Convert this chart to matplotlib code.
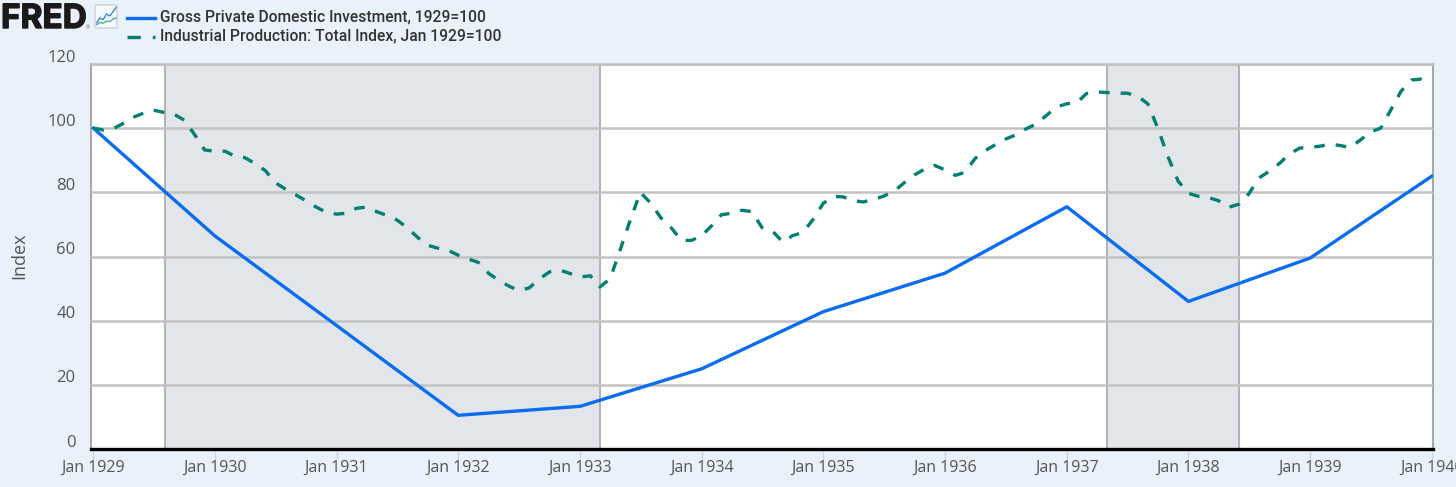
import numpy as np
import pandas as pd
import matplotlib
matplotlib.use('Agg')
from matplotlib import pyplot as plt
from matplotlib import patheffects
from matplotlib.lines import Line2D
from matplotlib.patches import FancyBboxPatch

W, H = 1456, 487

# annual series
gpdi_dates = pd.date_range('1929-01-01', '1940-01-01', freq='YS')
gpdi = [100, 66.4, 38.5, 10.5, 13.3, 25, 42.8, 54.8, 75.5, 46, 59.5, 85]

# monthly series, Jan 1929 to Jan 1940
indpro_dates = pd.date_range('1929-01-01', '1940-01-01', freq='MS')
indpro = [
    100, 99.4, 99.8, 101.5, 103.4, 104.7, 105.6, 104.9, 104.3, 102.5, 98, 93.2,
    92.8, 92.8, 91.3, 90.8, 89, 86.8, 83, 81, 79.2, 77.4, 75.4, 73.8,
    73.2, 73.5, 75, 75.4, 74, 72.8, 71.4, 69, 66, 63.5, 62.6, 62,
    60.4, 59.2, 58.2, 54.8, 52.6, 50.8, 49.4, 50.2, 53, 55.2, 55.8, 54.7,
    53.6, 54, 50.5, 53, 62, 71.5, 80, 76.6, 72, 69, 65, 65,
    66.5, 69.7, 73, 73.5, 74.4, 74, 69, 68, 64.5, 66.5, 67.5, 71.5,
    76.6, 78.7, 78.6, 77.4, 77, 77.8, 78.8, 80.3, 83, 85.4, 87.2, 88.4,
    87, 85.3, 86.2, 90.6, 93, 94.9, 96.6, 97.9, 99.8, 101.3, 104, 106.6,
    107.6, 108, 110.8, 111.3, 111.1, 110.9, 110.9, 110, 107.6, 100, 91, 83.5,
    79.7, 78.7, 78.4, 77.4, 75.3, 76.3, 79.5, 84.5, 86.6, 89, 92, 93.8,
    94, 94.4, 95, 94.6, 94, 96.3, 98.8, 100, 105.8, 111.5, 115, 115.3,
    114,
]

recessions = [('1929-08-05', '1933-03-01'), ('1937-05-03', '1938-06-01')]
y_ticks = [0, 20, 40, 60, 80, 100, 120]
x_ticks = pd.date_range('1929-01-01', '1940-01-01', freq='YS')
x_labels = ['Jan %d' % d.year for d in x_ticks]

# little chart icon next to the logo
icon_x = [0, 1, 2, 3, 4, 5, 6]
icon_blue = [1.5, 3.2, 2.6, 4.6, 3.9, 5.4, 7]
icon_green = [0.8, 1.6, 1.3, 2.1, 1.9, 2.8, 3.2]

BG = '#e9f1fa'
BLUE = '#0a6cf0'
TEAL = '#027f6e'
GRID = '#c2c2c2'

plt.rcParams['font.family'] = ['Open Sans', 'DejaVu Sans']

fig = plt.figure(figsize=(W / 100, H / 100), dpi=100, facecolor=BG)
ax = fig.add_axes([91 / W, 1 - 449 / H, (1433 - 91) / W, (449 - 64) / H])

for start, end in recessions:
    ax.axvspan(pd.Timestamp(start), pd.Timestamp(end), color='#e2e6ea', lw=0, zorder=0)
    ax.axvline(pd.Timestamp(start), color='#b4b4b4', lw=1.5, zorder=1)
    ax.axvline(pd.Timestamp(end), color='#b4b4b4', lw=1.5, zorder=1)

ax.plot(gpdi_dates, gpdi, color=BLUE, lw=2.4, zorder=3, solid_joinstyle='round')
ax.plot(indpro_dates, indpro, color=TEAL, lw=2.4, zorder=3, linestyle=(0, (3.2, 3.3)))

ax.set_xlim(pd.Timestamp('1928-12-25'), pd.Timestamp('1940-01-05'))
ax.set_ylim(0, 120)

ax.set_yticks(y_ticks)
ax.set_yticklabels([])
ax.grid(axis='y', color=GRID, lw=1.8, zorder=2)
ax.set_axisbelow(False)
for line in ax.get_ygridlines():
    line.set_zorder(2)
ax.tick_params(axis='y', length=0)

ax.set_xticks(x_ticks)
ax.set_xticklabels(x_labels, fontsize=11.5, color='#555555')
ax.tick_params(axis='x', length=7, width=1, color='#ccd6eb', pad=1)

for name in ['left', 'right']:
    ax.spines[name].set_color('#a8a8a8')
    ax.spines[name].set_linewidth(1.5)
ax.spines['top'].set_color(GRID)
ax.spines['top'].set_linewidth(1.8)
ax.spines['bottom'].set_color('black')
ax.spines['bottom'].set_linewidth(2.4)
ax.spines['bottom'].set_zorder(5)

# y labels sit above their grid lines
for v in y_ticks:
    ax.annotate(str(v), (0, v), xycoords=('axes fraction', 'data'), xytext=(-11, -1.2),
                textcoords='offset points', ha='right', va='bottom', fontsize=12,
                color='#555555')

fig.text(19 / W, 1 - 256 / H, 'Index', rotation=90, ha='center', va='center',
         fontsize=13, color='#555555')

# logo
logo = fig.text(1 / W, 1 - 28 / H, 'FRED', fontsize=24, fontweight='bold', color='#1a1a1a',
                family=['Inter', 'DejaVu Sans'], ha='left', va='baseline')
logo.set_path_effects([patheffects.withStroke(linewidth=1.0, foreground='#1a1a1a')])
fig.text(86 / W, 1 - 29 / H, '®', fontsize=4, color='#777777', family=['Roboto', 'DejaVu Sans'])

icon_box = FancyBboxPatch((95 / W, 1 - 28 / H), 22 / W, 23 / H, transform=fig.transFigure,
                          boxstyle='round,pad=0,rounding_size=0.002', fc='#f4f8fc',
                          ec='#c8c8c8', lw=0.8, zorder=-1)
fig.patches.append(icon_box)
icon_ax = fig.add_axes([96 / W, 1 - 27 / H, 21 / W, 21 / H])
icon_ax.axis('off')
icon_ax.plot(icon_x, icon_blue, color='#2f7de1', lw=0.9)
icon_ax.plot(icon_x, icon_green, color='#3cab94', lw=0.9)
icon_ax.set_xlim(-0.2, 6.2)
icon_ax.set_ylim(0, 7.4)

# legend
fig.add_artist(Line2D([127 / W, 155 / W], [1 - 17.5 / H, 1 - 17.5 / H], color=BLUE, lw=2.4))
fig.add_artist(Line2D([127 / W, 155 / W], [1 - 37 / H, 1 - 37 / H], color=TEAL, lw=2.4,
                      linestyle=(0, (4.0, 3.6))))
legend_font = ['Roboto', 'DejaVu Sans']
fig.text(160 / W, 1 - 17 / H, 'Gross Private Domestic Investment, 1929=100', fontsize=11.25,
         fontweight='medium', color='#333333', family=legend_font, va='center')
fig.text(160 / W, 1 - 36 / H, 'Industrial Production: Total Index, Jan 1929=100', fontsize=11.25,
         fontweight='medium', color='#333333', family=legend_font, va='center')

fig.savefig('out.png', dpi=100, facecolor=BG)
